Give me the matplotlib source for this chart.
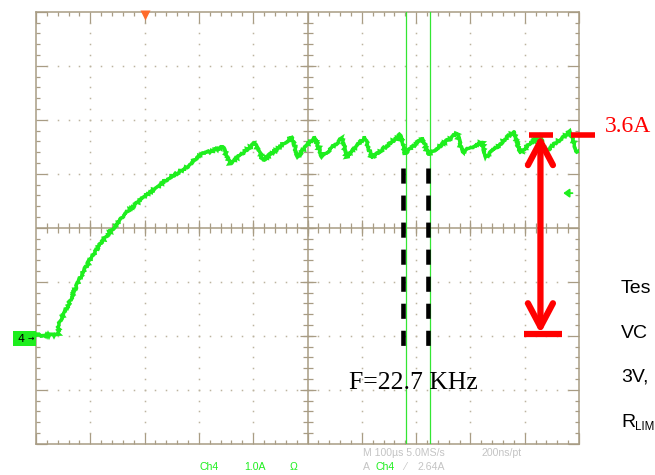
import matplotlib
matplotlib.use("Agg")
import matplotlib.pyplot as plt
import numpy as np
from matplotlib.patches import Rectangle

# ---------------- data ----------------
time_us = [0, 40.5, 42.4, 60.8, 79.2, 101.3, 123.4, 143.6, 171.3, 202.6, 244.9,
           276.2, 302.0, 344.4, 357.3, 403.3, 418.0, 471.5, 482.5, 491.7, 513.8,
           526.7, 563.5, 572.7, 605.9, 618.8, 670.3, 679.6, 712.7, 721.9, 775.3,
           784.5, 821.4, 828.7, 880.3, 891.3, 928.2, 937.4, 983.4, 996.3, 1000]
current_a = [0.01, 0.01, 0.24, 0.60, 1.03, 1.44, 1.77, 2.01, 2.33, 2.60, 2.92,
             3.11, 3.35, 3.49, 3.19, 3.57, 3.25, 3.68, 3.31, 3.44, 3.68,
             3.31, 3.66, 3.31, 3.68, 3.29, 3.72, 3.38, 3.66, 3.35, 3.75,
             3.40, 3.59, 3.31, 3.79, 3.38, 3.72, 3.40, 3.79, 3.40, 3.44]

cursor_times = [681, 725.6]          # green cursors (µs)
dash_times = [676, 722]              # black dashed markers (µs)
dash_range = [3.11, -0.31]           # A
arrow_time = 929                     # red double arrow (µs)
arrow_range = [3.72, 0.04]           # A
trigger_level = 2.64                 # A
trigger_time = 200                   # µs

x_lim = (0, 1000)
y_lim = (-2, 6)

W, H = 655, 475
GRID = '#A89C84'
DOT = '#BDB4A0'
GREEN = '#1EEE1E'
RED = '#FF0000'

fig = plt.figure(figsize=(W / 100, H / 100), dpi=100)
ax = fig.add_axes([36 / W, 31.3 / H, 543 / W, 432 / H])
ax.set_xlim(*x_lim)
ax.set_ylim(*y_lim)
ax.set_facecolor('white')

for s in ax.spines.values():
    s.set_color(GRID)
    s.set_linewidth(1.1)

ax.set_xticks(np.arange(0, 1001, 100))
ax.set_xticks(np.arange(0, 1001, 20), minor=True)
ax.set_yticks(np.arange(-2, 6.01, 1))
ax.set_yticks(np.arange(-2, 6.01, 0.2), minor=True)
ax.tick_params(which='both', direction='in', top=True, right=True,
               labelbottom=False, labelleft=False, color=GRID, width=0.9)
ax.tick_params(which='major', length=8)
ax.tick_params(which='minor', length=3)

# dotted grid
for xv in np.arange(100, 1000, 100):
    if xv == 500:
        continue
    ys = np.arange(-2, 6.001, 0.2)[1:-1]
    ax.plot(np.full_like(ys, xv), ys, ls='none', marker='s', ms=1.1,
            mec='none', mfc=DOT, zorder=1)
for yv in np.arange(-1, 6, 1):
    if yv == 2:
        continue
    xs = np.arange(0, 1000.001, 20)[1:-1]
    ax.plot(xs, np.full_like(xs, yv), ls='none', marker='s', ms=1.1,
            mec='none', mfc=DOT, zorder=1)

# center cross with ticks
ax.axvline(500, color=GRID, lw=1.1, zorder=1)
ax.axhline(2, color=GRID, lw=1.1, zorder=1)
xs_minor = np.arange(20, 1000, 20)
ax.plot(xs_minor, np.full_like(xs_minor, 2.0), ls='none', marker='|', ms=7,
        mew=0.9, color=GRID, zorder=1)
xs_major = np.arange(100, 1000, 100)
ax.plot(xs_major, np.full_like(xs_major, 2.0), ls='none', marker='|', ms=11,
        mew=0.9, color=GRID, zorder=1)
ys_minor = np.arange(-1.8, 6, 0.2)
ax.plot(np.full_like(ys_minor, 500), ys_minor, ls='none', marker='_', ms=7,
        mew=0.9, color=GRID, zorder=1)
ys_major = np.arange(-1, 6, 1)
ax.plot(np.full_like(ys_major, 500), ys_major, ls='none', marker='_', ms=11,
        mew=0.9, color=GRID, zorder=1)

# cursors
for ct in cursor_times:
    ax.axvline(ct, color='#33E633', lw=0.9, zorder=3)

# trace (noisy band look)
line, = ax.plot(time_us, current_a, color=GREEN, lw=2.4, zorder=4,
                solid_joinstyle='miter')
line.set_sketch_params(scale=1.1, length=0.7, randomness=2)
line2, = ax.plot(time_us, current_a, color=GREEN, lw=1.6, zorder=4)

# black dashed markers
for dt in dash_times:
    ax.plot([dt, dt], dash_range, color='black', lw=3.3,
            dashes=(3.3, 2.6), zorder=5, solid_capstyle='butt')

# red double arrow with bars
ax.annotate('', xy=(arrow_time, arrow_range[0]), xytext=(arrow_time, arrow_range[1]),
            arrowprops=dict(arrowstyle='<->, head_length=0.85, head_width=0.45',
                            color=RED, lw=4.5, shrinkA=0, shrinkB=0,
                            mutation_scale=20), zorder=6)
ax.plot([908, 952], [arrow_range[0], arrow_range[0]], color=RED, lw=4, zorder=6,
        solid_capstyle='butt')
ax.plot([899, 969], [arrow_range[1], arrow_range[1]], color=RED, lw=4.5, zorder=6,
        solid_capstyle='butt')
ax.plot([985, 1029], [arrow_range[0], arrow_range[0]], color=RED, lw=4, zorder=6,
        solid_capstyle='butt', clip_on=False)

# trigger level arrow (right) and trigger position (top)
ax.annotate('', xy=(1000 - 29, trigger_level), xytext=(1000 - 12, trigger_level),
            arrowprops=dict(arrowstyle='-|>, head_length=0.35, head_width=0.25',
                            color=GREEN, lw=1.3, shrinkA=0, shrinkB=0,
                            mutation_scale=10), zorder=6)
ax.plot([trigger_time], [y_lim[1] - 0.06], marker='v', ms=7, color='#FF6A2A',
        mec='none', clip_on=False, zorder=7)

# texts
def fx(px):
    return px / W

def fy(py):
    return 1 - py / H

fig.text(fx(413.7), fy(383), 'F=22.7 KHz', family='Liberation Serif',
         fontsize=18.5, ha='center', va='center', color='black')
fig.text(fx(605), fy(127), '3.6A', family='Liberation Serif',
         fontsize=17, ha='left', va='center', color=RED)

for txt, base in [('Tes', 293), ('VC', 338), ('3V,', 382), ('R', 427)]:
    fig.text(fx(621), fy(base), txt, family='Liberation Sans', fontsize=14,
             ha='left', va='baseline', color='black')
fig.text(fx(635), fy(430), 'LIM', family='Liberation Sans', fontsize=8.3,
         ha='left', va='baseline', color='black')

small = dict(family='Liberation Sans', fontsize=7.6, va='center')
GRAY = '#C4C4C4'
fig.text(fx(363), fy(453), 'M 100µs 5.0MS/s', color=GRAY, **small)
fig.text(fx(481), fy(453), '200ns/pt', color=GRAY, **small)
fig.text(fx(363), fy(467), 'A', color=GRAY, **small)
fig.text(fx(376), fy(467), 'Ch4', color=GREEN, **small)
fig.text(fx(404), fy(467), '⁄', color=GRAY, **small)
fig.text(fx(417), fy(467), '2.64A', color=GRAY, **small)
fig.text(fx(200), fy(467), 'Ch4', color=GREEN, **small)
fig.text(fx(244), fy(467), '1.0A', color=GREEN, **small)
fig.text(fx(290), fy(467), 'Ω', color=GREEN, **small)

# channel ground marker
fig.patches.append(Rectangle((fx(13), fy(346)), 23 / W, 15 / H, transform=fig.transFigure,
                             facecolor=GREEN, edgecolor='none'))
fig.text(fx(21), fy(338.5), '4', color='black', family='DejaVu Sans',
         fontsize=8, ha='center', va='center')
fig.text(fx(31), fy(338.5), '→', color='black', family='DejaVu Sans',
         fontsize=5.5, ha='center', va='center')

fig.savefig('out.png', dpi=100, facecolor='white')
